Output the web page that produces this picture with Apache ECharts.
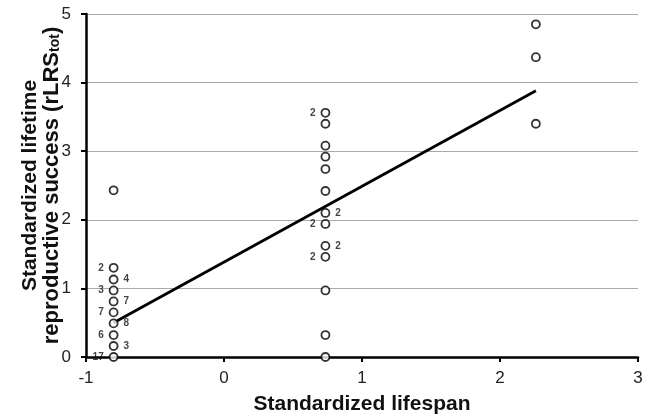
<!DOCTYPE html>
<html>
<head>
<meta charset="utf-8">
<script src="https://cdn.jsdelivr.net/npm/echarts@6/dist/echarts.min.js"></script>
<style>html,body{margin:0;padding:0;background:#fff}#c{width:652px;height:416px}</style>
</head>
<body>
<div id="c"></div>
<script>
// ---- data ----
var xTicks = [-1, 0, 1, 2, 3];
var yTicks = [0, 1, 2, 3, 4, 5];

var lowLifespan = -0.80;
var lowRLRS   = [0, 0.16, 0.32, 0.49, 0.65, 0.81, 0.97, 1.13, 1.30, 2.43];
var lowCounts = ['17', '3', '6', '8', '7', '7', '3', '4', '2', ''];

var midLifespan = 0.735;
var midRLRS   = [0, 0.32, 0.97, 1.46, 1.62, 1.94, 2.10, 2.42, 2.74, 2.92, 3.08, 3.40, 3.56];
var midCounts = ['', '', '', '2', '2', '2', '2', '', '', '', '', '', '2'];

var highLifespan = 2.26;
var highRLRS   = [3.40, 4.37, 4.85];
var highCounts = ['', '', ''];

var fitLifespan = [-0.80, 2.26];
var fitRLRS     = [0.50, 3.88];

// ---- build ----
var font = '"Liberation Sans", Arial, sans-serif';
function pts(x, ys, counts, sides) {
  return ys.map(function (y, i) {
    var side = sides ? sides[i] : 'right';
    return {
      value: [x, y],
      label: {
        show: counts[i] !== '',
        formatter: counts[i],
        position: side,
        distance: 5
      }
    };
  });
}
var lowSides = lowRLRS.map(function (_, i) { return i % 2 === 0 ? 'left' : 'right'; });
var midSides = ['left','left','left','left','right','left','right','left','left','left','left','left','left'];

var data = [].concat(
  pts(lowLifespan, lowRLRS, lowCounts, lowSides),
  pts(midLifespan, midRLRS, midCounts, midSides),
  pts(highLifespan, highRLRS, highCounts, null)
);

var chart = echarts.init(document.getElementById('c'), null, {renderer: 'canvas'});
chart.setOption({
  animation: false,
  backgroundColor: '#fff',
  grid: {left: 86, right: 14, top: 14, bottom: 59, containLabel: false, outerBoundsMode: 'none'},
  xAxis: {
    type: 'value', min: xTicks[0], max: xTicks[xTicks.length - 1], interval: 1,
    name: 'Standardized lifespan', nameLocation: 'middle', nameGap: 37, nameMoveOverlap: false,
    nameTextStyle: {fontFamily: font, fontWeight: 'bold', fontSize: 21, color: '#111'},
    axisLine: {onZero: false, lineStyle: {color: '#000', width: 2.5}},
    axisTick: {show: true, length: 5, lineStyle: {color: '#000', width: 2}},
    axisLabel: {fontFamily: font, fontSize: 17, color: '#222', margin: 13},
    splitLine: {show: false}
  },
  yAxis: {
    type: 'value', min: yTicks[0], max: yTicks[yTicks.length - 1], interval: 1,
    name: 'Standardized lifetime\n{l2|reproductive success (rLRS}{sub|tot}{l2|)}',
    nameLocation: 'middle', nameGap: 24, nameRotate: 90, nameMoveOverlap: false,
    nameTextStyle: {
      fontFamily: font, fontWeight: 'bold', fontSize: 21, color: '#111', lineHeight: 21,
      rich: {
        l2: {fontFamily: font, fontWeight: 'bold', fontSize: 22, color: '#111', lineHeight: 21},
        sub: {fontFamily: font, fontWeight: 'bold', fontSize: 14, color: '#111', lineHeight: 21, verticalAlign: 'bottom', padding: [9, 0, 0, 0]}
      }
    },
    axisLine: {onZero: false, lineStyle: {color: '#000', width: 2.5}},
    axisTick: {show: true, length: 5, lineStyle: {color: '#000', width: 2}},
    axisLabel: {fontFamily: font, fontSize: 17, color: '#222', margin: 15},
    splitLine: {show: true, lineStyle: {color: '#aaaaaa', width: 1.2}}
  },
  series: [
    {
      type: 'line',
      data: fitLifespan.map(function (x, i) { return [x, fitRLRS[i]]; }),
      showSymbol: false, symbol: 'none',
      lineStyle: {color: '#000', width: 2.8},
      z: 2
    },
    {
      type: 'scatter',
      data: data,
      symbol: 'circle', symbolSize: 8,
      itemStyle: {color: '#fff', borderColor: '#000', borderWidth: 1.8},
      label: {fontFamily: font, fontWeight: 'bold', fontSize: 10, color: '#111'},
      z: 3
    }
  ]
});
</script>
</body>
</html>
